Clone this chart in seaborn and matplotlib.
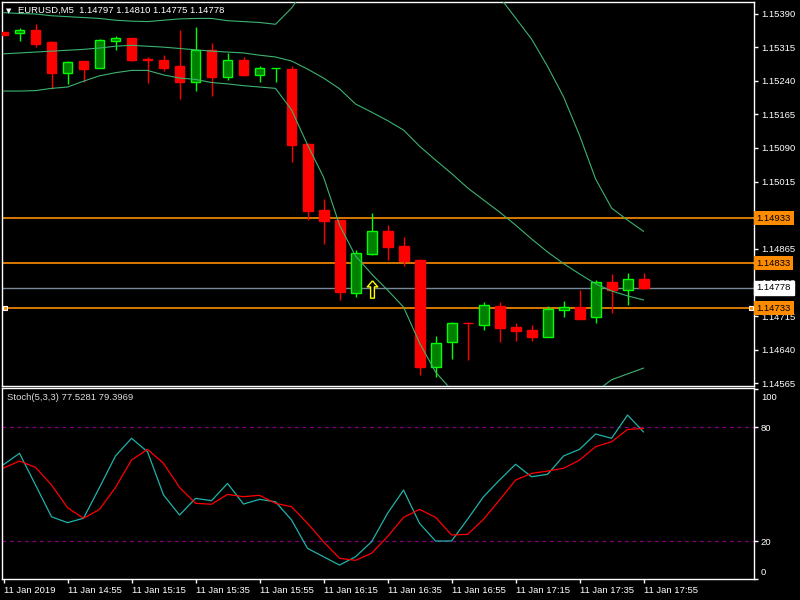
import pandas as pd
import matplotlib
matplotlib.use("Agg")
import matplotlib.pyplot as plt
import matplotlib.transforms as mtransforms
from matplotlib.path import Path
import seaborn as sns

# --- data (EURUSD M5, 11 Jan 2019, 14:35 .. 17:55) ---
symbol = "EURUSD,M5"
opens = [1.15348, 1.15346, 1.15353, 1.15326, 1.15258, 1.15284, 1.15269, 1.15329, 1.15335, 1.15288,
         1.15286, 1.15273, 1.15238, 1.15309, 1.15248, 1.15286, 1.15253, 1.15268, 1.15266, 1.15099,
         1.14952, 1.14929, 1.14767, 1.14854, 1.14905, 1.14871, 1.14840, 1.14602, 1.14658, 1.14700,
         1.14696, 1.14738, 1.14691, 1.14684, 1.14669, 1.14729, 1.14735, 1.14712, 1.14791, 1.14774,
         1.14797]
highs = [1.15348, 1.15357, 1.15366, 1.15329, 1.15284, 1.15284, 1.15333, 1.15340, 1.15335, 1.15293,
         1.15297, 1.15353, 1.15360, 1.15325, 1.15302, 1.15293, 1.15273, 1.15268, 1.15273, 1.15100,
         1.14976, 1.14929, 1.14862, 1.14945, 1.14918, 1.14892, 1.14842, 1.14671, 1.14702, 1.14702,
         1.14747, 1.14747, 1.14700, 1.14695, 1.14738, 1.14749, 1.14773, 1.14796, 1.14809, 1.14811,
         1.14810]
lows = [1.15343, 1.15329, 1.15316, 1.15222, 1.15233, 1.15237, 1.15269, 1.15309, 1.15284, 1.15236,
        1.15262, 1.15199, 1.15218, 1.15206, 1.15242, 1.15251, 1.15237, 1.15237, 1.15059, 1.14929,
        1.14876, 1.14751, 1.14758, 1.14851, 1.14840, 1.14827, 1.14584, 1.14579, 1.14619, 1.14617,
        1.14683, 1.14657, 1.14660, 1.14660, 1.14669, 1.14713, 1.14709, 1.14700, 1.14722, 1.14740,
        1.14775]
closes = [1.15343, 1.15353, 1.15323, 1.15258, 1.15282, 1.15266, 1.15331, 1.15335, 1.15286, 1.15287,
          1.15268, 1.15238, 1.15309, 1.15248, 1.15286, 1.15253, 1.15268, 1.15268, 1.15097, 1.14950,
          1.14926, 1.14769, 1.14855, 1.14905, 1.14869, 1.14838, 1.14602, 1.14655, 1.14700, 1.14699,
          1.14740, 1.14689, 1.14682, 1.14669, 1.14731, 1.14735, 1.14709, 1.14791, 1.14774, 1.14798,
          1.14778]

bb_upper = [1.15392, 1.15390, 1.15389, 1.15385, 1.15383, 1.15381, 1.15379, 1.15375, 1.15373, 1.15372,
            1.15375, 1.15378, 1.15379, 1.15379, 1.15374, 1.15372, 1.15370, 1.15366, 1.15402, 1.15453,
            1.15509, 1.15587, 1.15632, 1.15654, 1.15665, 1.15670, 1.15699, 1.15665, 1.15610, 1.15543,
            1.15476, 1.15427, 1.15380, 1.15333, 1.15272, 1.15204, 1.15118, 1.15021, 1.14956, 1.14929,
            1.14904]
bb_middle = [1.15300, 1.15302, 1.15304, 1.15306, 1.15308, 1.15310, 1.15313, 1.15317, 1.15319, 1.15317,
             1.15315, 1.15312, 1.15309, 1.15306, 1.15304, 1.15302, 1.15297, 1.15293, 1.15284, 1.15266,
             1.15246, 1.15222, 1.15188, 1.15170, 1.15151, 1.15130, 1.15094, 1.15063, 1.15033, 1.15001,
             1.14974, 1.14947, 1.14918, 1.14887, 1.14858, 1.14832, 1.14809, 1.14787, 1.14771, 1.14760,
             1.14751]
bb_lower = [1.15217, 1.15217, 1.15218, 1.15223, 1.15226, 1.15239, 1.15251, 1.15258, 1.15263, 1.15263,
            1.15253, 1.15246, 1.15243, 1.15236, 1.15233, 1.15229, 1.15226, 1.15223, 1.15175, 1.15097,
            1.15025, 1.14918, 1.14849, 1.14809, 1.14773, 1.14735, 1.14655, 1.14590, 1.14550, 1.14483,
            1.14439, 1.14405, 1.14383, 1.14372, 1.14390, 1.14439, 1.14506, 1.14546, 1.14573, 1.14586,
            1.14599]

stoch_k = [60.3, 66.3, 49.6, 32.8, 29.7, 32.0, 48.3, 64.9, 74.2, 67.1,
           44.3, 33.7, 42.5, 41.3, 50.4, 39.5, 42.0, 40.7, 31.1, 16.1,
           11.7, 7.3, 11.7, 19.6, 34.6, 46.9, 29.3, 20.0, 20.0, 31.5,
           43.4, 52.2, 60.5, 53.9, 55.2, 64.9, 68.4, 76.5, 74.2, 86.5,
           77.5281]
stoch_d = [58.5, 62.2, 58.9, 49.6, 37.6, 32.0, 36.7, 48.3, 62.7, 68.4,
           61.0, 48.3, 39.9, 39.4, 44.6, 43.4, 44.1, 39.9, 38.1, 29.3,
           19.6, 10.9, 9.8, 13.5, 22.3, 32.5, 36.7, 32.5, 23.2, 23.5,
           31.5, 41.6, 52.2, 55.7, 56.9, 58.4, 62.7, 69.8, 72.4, 78.9,
           79.3969]

levels = [1.14933, 1.14833, 1.14733]
bid = 1.14778
arrow_bar, arrow_price = 23, 1.14776
# 1.14940 sits under the 1.14933 label box in the original, so it is left out
price_ticks = [1.14565, 1.14640, 1.14715, 1.14790, 1.14865,
               1.15015, 1.15090, 1.15165, 1.15240, 1.15315, 1.15390]
time_tick_bars = [0, 4, 8, 12, 16, 20, 24, 28, 32, 36, 40]
time_tick_labels = ["11 Jan 2019", "11 Jan 14:55", "11 Jan 15:15", "11 Jan 15:35",
                    "11 Jan 15:55", "11 Jan 16:15", "11 Jan 16:35", "11 Jan 16:55",
                    "11 Jan 17:15", "11 Jan 17:35", "11 Jan 17:55"]

df = pd.DataFrame({"bar": range(len(opens)), "open": opens, "high": highs,
                   "low": lows, "close": closes, "upper": bb_upper,
                   "middle": bb_middle, "lower": bb_lower,
                   "k": stoch_k, "d": stoch_d})

# --- style ---
sns.set_style("dark", {"axes.facecolor": "black", "figure.facecolor": "black"})
plt.rcParams["font.family"] = ["Liberation Sans", "DejaVu Sans"]
FS = 6.8
BULL_BODY, BULL_LINE, BEAR = "#008000", "#00FF00", "#FF0000"
BAND = "#3CB371"
ORANGE = "#FF8C00"

fig = plt.figure(figsize=(8, 6), dpi=100)
ax = fig.add_axes([2.3 / 800, 1 - 386 / 600, 751.7 / 800, 383.7 / 600])
ax2 = fig.add_axes([2.3 / 800, 1 - 579 / 600, 751.7 / 800, 190.7 / 600])

for a in (ax, ax2):
    a.set_facecolor("black")
    a.grid(False)
    for s in a.spines.values():
        s.set_color("white")
        s.set_linewidth(1)
    a.set_xlim(-0.075, 46.9)

# --- main chart ---
bull = df[df.close >= df.open]
bear = df[df.close < df.open]
ax.vlines(bull.bar, bull.low, bull.high, color=BULL_LINE, lw=1, zorder=2)
ax.vlines(bear.bar, bear.low, bear.high, color=BEAR, lw=1, zorder=2)
ax.bar(bull.bar, bull.close - bull.open, bottom=bull.open, width=0.62,
       facecolor=BULL_BODY, edgecolor=BULL_LINE, linewidth=1, zorder=3)
ax.bar(bear.bar, bear.open - bear.close, bottom=bear.close, width=0.62,
       facecolor=BEAR, edgecolor=BEAR, linewidth=1, zorder=3)

for col in ["upper", "middle", "lower"]:
    sns.lineplot(data=df, x="bar", y=col, ax=ax, color=BAND, lw=0.8, zorder=4)

for lv in levels:
    ax.axhline(lv, color=ORANGE, lw=1.2, zorder=1)
ax.axhline(bid, color="#778899", lw=1, zorder=1)

arrow = Path([(0, 1), (0.6, 0.3), (0.22, 0.3), (0.22, -1), (-0.22, -1),
              (-0.22, 0.3), (-0.6, 0.3), (0, 1)])
ax.plot([arrow_bar], [arrow_price], marker=arrow, ms=12.5, mfc="black",
        mec="#FFFF00", mew=1, ls="none", zorder=6)

trans = mtransforms.blended_transform_factory(ax.transAxes, ax.transData)
ax.plot([0.003, 0.996], [levels[2]] * 2, transform=trans, marker="s", ms=3.5,
        mfc=ORANGE, mec="white", mew=0.8, ls="none", zorder=7, clip_on=False)

ax.set_ylim(1.14559, 1.15415)
ax.yaxis.tick_right()
ax.set_yticks(price_ticks)
ax.set_yticklabels([f"{p:.5f}" for p in price_ticks])
ax.tick_params(axis="y", colors="white", labelcolor="white", length=3,
               width=1, pad=2, labelsize=FS, right=True, left=False)
ax.set_xticks([])
ax.set_xlabel("")
ax.set_ylabel("")

for lv in levels:
    ax.text(1.0035, lv, f"{lv:.5f}", transform=trans, va="center", ha="left",
            fontsize=FS, color="black", zorder=10, clip_on=False,
            bbox=dict(boxstyle="square,pad=0.28", fc=ORANGE, ec="none"))
ax.text(1.0035, bid, f"{bid:.5f}", transform=trans, va="center", ha="left",
        fontsize=FS, color="black", zorder=10, clip_on=False,
        bbox=dict(boxstyle="square,pad=0.28", fc="white", ec="white"))

fig.text(6 / 800, 1 - 11 / 600, "\u25bc", fontsize=5, color="white",
         va="center", ha="left", family=["DejaVu Sans"])
fig.text(18.3 / 800, 1 - 10.5 / 600,
         f"{symbol}  {opens[-1]:.5f} {highs[-1]:.5f} {lows[-1]:.5f} {closes[-1]:.5f}",
         fontsize=FS, color="white", va="center", ha="left")

# --- stochastic ---
ax2.axhline(80, color="#800080", lw=0.9, ls=(0, (3, 3)))
ax2.axhline(20, color="#800080", lw=0.9, ls=(0, (3, 3)))
sns.lineplot(data=df, x="bar", y="k", ax=ax2, color="#20B2AA", lw=0.9)
sns.lineplot(data=df, x="bar", y="d", ax=ax2, color="#FF0000", lw=0.9)
ax2.set_ylim(-0.05, 100.6)
ax2.yaxis.tick_right()
ax2.set_yticks([0, 20, 80, 100])
ax2.set_yticklabels(["0", "20", "80", "100"])
ax2.tick_params(axis="y", colors="white", labelcolor="white", length=3,
                width=1, pad=2, labelsize=FS, right=True, left=False)
for lab in ax2.get_yticklabels():
    if lab.get_text() == "100":
        lab.set_va("top")
        lab.set_transform(lab.get_transform()
                          + mtransforms.ScaledTranslation(0, -2.5 / 72, fig.dpi_scale_trans))
    elif lab.get_text() == "0":
        lab.set_va("bottom")
        lab.set_transform(lab.get_transform()
                          + mtransforms.ScaledTranslation(0, 1.5 / 72, fig.dpi_scale_trans))
ax2.set_xticks(time_tick_bars)
ax2.set_xticklabels(time_tick_labels, ha="left")
ax2.tick_params(axis="x", colors="white", labelcolor="white", length=3,
                width=1, pad=2, labelsize=FS, bottom=True)
ax2.set_xlabel("")
ax2.set_ylabel("")
fig.text(7 / 800, 1 - 397.3 / 600, "Stoch(5,3,3) 77.5281 79.3969",
         fontsize=FS, color="#DDDDDD", va="center", ha="left")

plt.savefig("out.png", dpi=100, facecolor="black")
print("saved out.png")
